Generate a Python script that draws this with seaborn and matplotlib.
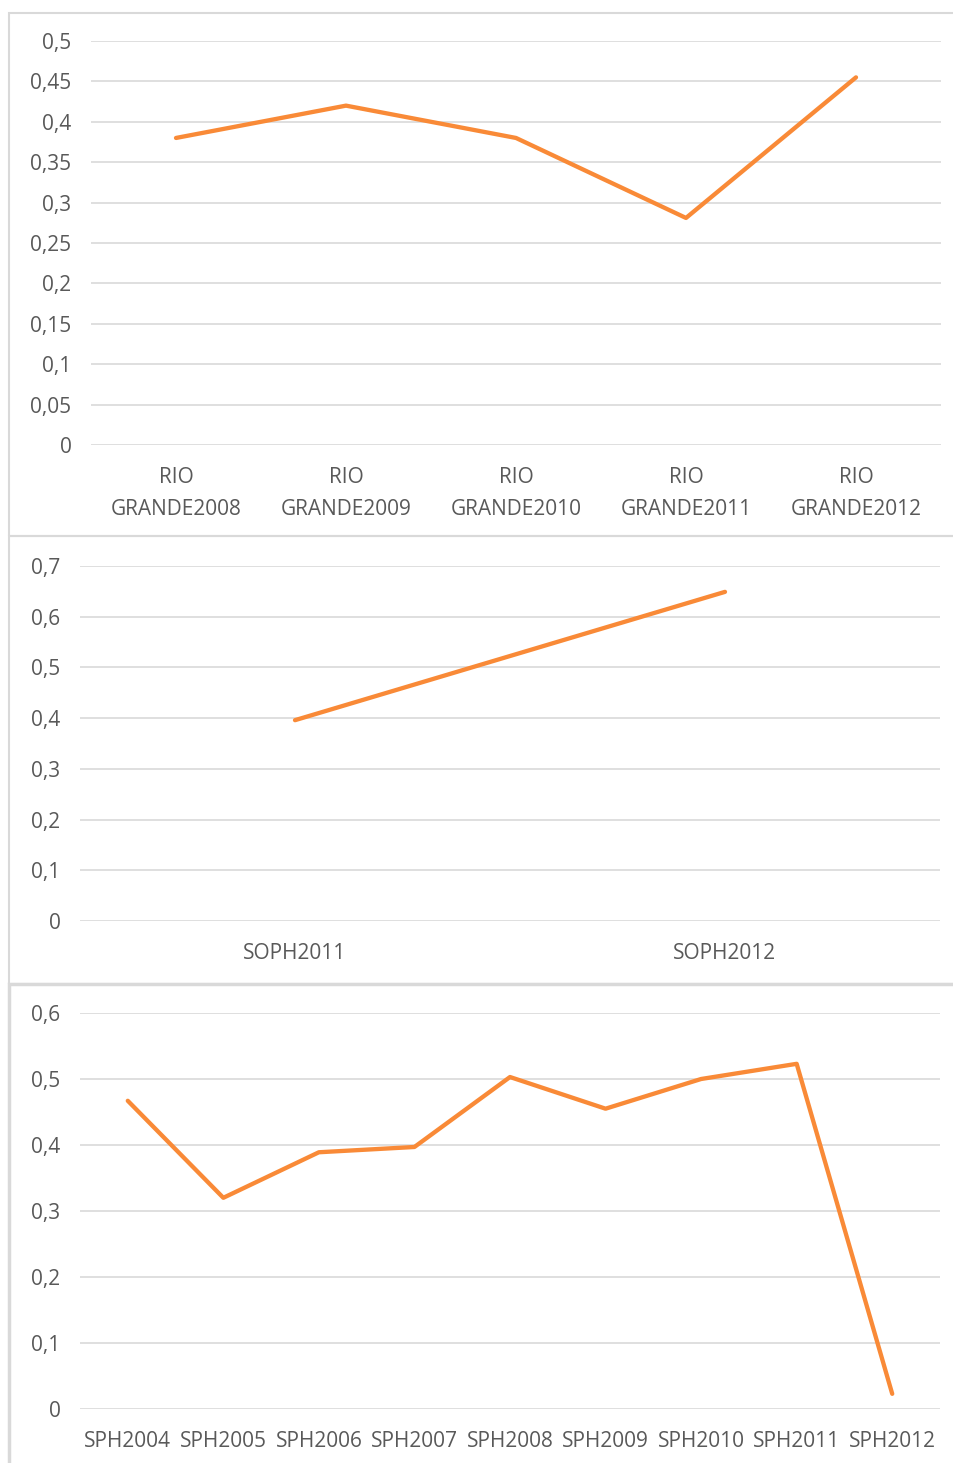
import matplotlib
matplotlib.use("Agg")
import matplotlib.pyplot as plt
from matplotlib.patches import Rectangle
from matplotlib.ticker import FuncFormatter, MultipleLocator
import seaborn as sns
import pandas as pd

# --- dados ---
rio_cats = ["RIO\nGRANDE2008", "RIO\nGRANDE2009", "RIO\nGRANDE2010", "RIO\nGRANDE2011", "RIO\nGRANDE2012"]
rio_vals = [0.38, 0.42, 0.38, 0.281, 0.455]

soph_cats = ["SOPH2011", "SOPH2012"]
soph_vals = [0.396, 0.649]

sph_cats = ["SPH2004", "SPH2005", "SPH2006", "SPH2007", "SPH2008",
            "SPH2009", "SPH2010", "SPH2011", "SPH2012"]
sph_vals = [0.467, 0.320, 0.389, 0.397, 0.503, 0.455, 0.500, 0.523, 0.023]

W, H = 954, 1463
LARANJA = "#F98A37"
GRADE = "#D9D9D9"
TEXTO = "#595959"

sns.set_theme(style="white")
plt.rcParams["font.family"] = ["Open Sans", "DejaVu Sans"]

fig = plt.figure(figsize=(W / 100, H / 100), dpi=100)
fig.patch.set_facecolor("white")


def px_axes(left, top, right, bottom):
    return fig.add_axes([left / W, 1 - bottom / H, (right - left) / W, (bottom - top) / H])


def virgula(v, pos):
    return ("%g" % round(v, 4)).replace(".", ",")


def painel(ax, cats, vals, ymax, passo):
    df = pd.DataFrame({"cat": cats, "valor": vals})
    sns.lineplot(data=df, x="cat", y="valor", ax=ax, color=LARANJA, linewidth=3.1,
                 sort=False, solid_capstyle="round", solid_joinstyle="round")
    ax.set_xlim(-0.5, len(cats) - 0.5)
    ax.set_ylim(0, ymax)
    ax.yaxis.set_major_locator(MultipleLocator(passo))
    ax.yaxis.set_major_formatter(FuncFormatter(virgula))
    ax.grid(axis="y", color=GRADE, linewidth=1.2)
    ax.set_axisbelow(True)
    for s in ax.spines.values():
        s.set_visible(False)
    ax.set_xlabel("")
    ax.set_ylabel("")
    ax.tick_params(axis="both", length=0, labelsize=15, labelcolor=TEXTO)
    ax.tick_params(axis="y", pad=14)
    ax.tick_params(axis="x", pad=16)
    for lab in ax.get_xticklabels():
        lab.set_linespacing(1.65)
    ax.set_facecolor("none")


ax1 = px_axes(91, 41, 941, 445)
painel(ax1, rio_cats, rio_vals, 0.5, 0.05)

ax2 = px_axes(80, 566, 940, 921)
painel(ax2, soph_cats, soph_vals, 0.7, 0.1)

ax3 = px_axes(80, 1013, 940, 1409)
painel(ax3, sph_cats, sph_vals, 0.6, 0.1)

# molduras dos painéis
for topo, base, lw in [(12.5, 536, 1.5), (536, 983.5, 1.5), (983.5, 1480, 2.5)]:
    fig.add_artist(Rectangle((9.5 / W, 1 - base / H), (W + 20) / W, (base - topo) / H,
                             transform=fig.transFigure, fill=False,
                             edgecolor=GRADE, linewidth=lw, zorder=0))

fig.savefig("out.png", dpi=100, facecolor="white")
